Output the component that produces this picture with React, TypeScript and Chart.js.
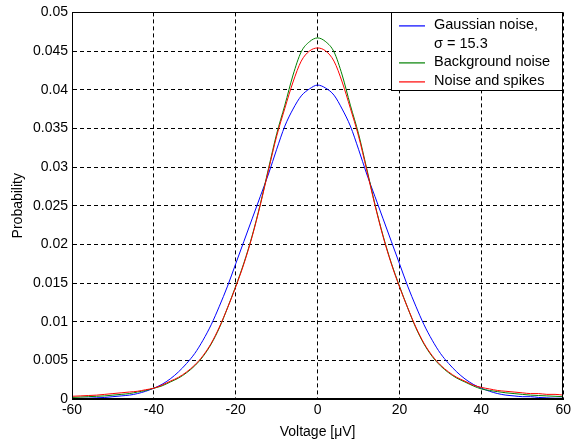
import React, { useEffect, useRef } from 'react';
import { Chart, registerables } from 'chart.js';

Chart.register(...registerables);

// Voltage axis samples (µV), step 2
const voltage = [
  -60, -58, -56, -54, -52, -50, -48, -46, -44, -42, -40, -38, -36, -34, -32, -30,
  -28, -26, -24, -22, -20, -18, -16, -14, -12, -10, -8, -6, -4, -2, 0,
  2, 4, 6, 8, 10, 12, 14, 16, 18, 20, 22, 24, 26, 28, 30,
  32, 34, 36, 38, 40, 42, 44, 46, 48, 50, 52, 54, 56, 58, 60,
];

const gaussianNoise = [
  0.00005, 0.00008, 0.0001, 0.00015, 0.0002, 0.0003, 0.0004, 0.0005, 0.0007, 0.001, 0.0014, 0.0019, 0.0026, 0.0035, 0.0046, 0.0059,
  0.0076, 0.0096, 0.012, 0.0146, 0.0175, 0.0204, 0.0233, 0.0262, 0.0291, 0.0323, 0.0353, 0.0375, 0.0392, 0.0401, 0.0406,
  0.0402, 0.0393, 0.0375, 0.0353, 0.0323, 0.0291, 0.0262, 0.0233, 0.0204, 0.0175, 0.0146, 0.012, 0.0096, 0.0076, 0.0059,
  0.0046, 0.0035, 0.0026, 0.0019, 0.0014, 0.001, 0.0007, 0.0005, 0.0004, 0.0003, 0.0003, 0.0002, 0.00015, 0.0001, 0.0001,
];

const backgroundNoise = [
  0.0002, 0.00025, 0.0003, 0.00035, 0.0004, 0.0005, 0.0006, 0.0007, 0.0009, 0.0011, 0.0014, 0.0017, 0.0022, 0.0027, 0.0034, 0.0043,
  0.0055, 0.0071, 0.0092, 0.0118, 0.0146, 0.0176, 0.0211, 0.0252, 0.0298, 0.0343, 0.038, 0.0419, 0.0449, 0.0462, 0.0467,
  0.0462, 0.0449, 0.0419, 0.038, 0.0343, 0.0298, 0.0252, 0.0211, 0.0176, 0.0146, 0.0118, 0.0092, 0.0071, 0.0055, 0.0043,
  0.0034, 0.0027, 0.0022, 0.0017, 0.0013, 0.0011, 0.00095, 0.0008, 0.0007, 0.0006, 0.0005, 0.00045, 0.0004, 0.00035, 0.0003,
];

const noiseAndSpikes = [
  0.00035, 0.0004, 0.00045, 0.0005, 0.0006, 0.0007, 0.0008, 0.0009, 0.001, 0.0012, 0.0014, 0.0018, 0.0023, 0.0028, 0.0035, 0.0044,
  0.0056, 0.0072, 0.0093, 0.0118, 0.0145, 0.0175, 0.021, 0.0251, 0.0296, 0.034, 0.0376, 0.041, 0.0437, 0.045, 0.0454,
  0.045, 0.0437, 0.041, 0.0376, 0.034, 0.0296, 0.0251, 0.021, 0.0175, 0.0145, 0.0118, 0.0093, 0.0072, 0.0056, 0.0044,
  0.0035, 0.0028, 0.0023, 0.0018, 0.0015, 0.0013, 0.0011, 0.001, 0.0009, 0.0008, 0.0007, 0.0007, 0.0006, 0.0006, 0.0005,
];

const seriesLabels = ['Gaussian noise,\n\u03c3 = 15.3', 'Background noise', 'Noise and spikes'];
const seriesColors = ['#0000ff', '#008000', '#ff0000'];
const xTickLabels = ['-60', '-40', '-20', '0', '20', '40', '60'];
const yTickLabels = ['0', '0.005', '0.01', '0.015', '0.02', '0.025', '0.03', '0.035', '0.04', '0.045', '0.05'];
const xTitle = 'Voltage [\u03bcV]';
const yTitle = 'Probability';

const FONT = "'Liberation Sans', Arial, sans-serif";

const boxPlugin = {
  id: 'matlabBox',
  afterDatasetsDraw(chart: any) {
    const { ctx, chartArea } = chart;
    const l = Math.round(chartArea.left) + 0.5;
    const t = Math.round(chartArea.top) + 0.5;
    const r = Math.round(chartArea.right) - 0.5;
    const b = Math.round(chartArea.bottom) - 0.5;
    ctx.save();
    ctx.setLineDash([]);
    ctx.strokeStyle = '#000';
    ctx.lineWidth = 1;
    ctx.strokeRect(l, t, r - l, b - t);
    ctx.restore();
  },
};

const legendPlugin = {
  id: 'matlabLegend',
  afterDraw(chart: any) {
    const { ctx, chartArea } = chart;
    const right = Math.round(chartArea.right) - 1;
    const top = Math.round(chartArea.top);
    const width = 171;
    const left = right - width;
    const rowStep = 18.7;
    const rows: { text: string; color: string | null }[] = [];
    seriesLabels.forEach((label, k) => {
      label.split('\n').forEach((line, i) => {
        rows.push({ text: line, color: i === 0 ? seriesColors[k] : null });
      });
    });
    const height = 78;
    ctx.save();
    ctx.setLineDash([]);
    ctx.fillStyle = '#000000';
    ctx.fillRect(left, top, width + 1, height + 1);
    ctx.fillStyle = '#ffffff';
    ctx.fillRect(left + 1, top + 1, width - 1, height - 1);
    ctx.font = `14.5px ${FONT}`;
    ctx.textBaseline = 'middle';
    ctx.textAlign = 'left';
    rows.forEach((row, i) => {
      const y = top + 12.5 + i * rowStep;
      if (row.color) {
        ctx.beginPath();
        ctx.strokeStyle = row.color;
        ctx.lineWidth = 1.2;
        ctx.moveTo(left + 8, Math.round(y) + 0.9);
        ctx.lineTo(left + 34, Math.round(y) + 0.9);
        ctx.stroke();
      }
      ctx.fillStyle = '#000000';
      ctx.fillText(row.text, left + 43, y + 0.5);
    });
    ctx.restore();
  },
};

export default function App() {
  const canvasRef = useRef<HTMLCanvasElement | null>(null);

  useEffect(() => {
    if (!canvasRef.current) return;
    const series = [gaussianNoise, backgroundNoise, noiseAndSpikes];
    const chart = new Chart(canvasRef.current, {
      type: 'line',
      data: {
        datasets: series.map((values, i) => ({
          label: seriesLabels[i],
          data: voltage.map((x, j) => ({ x, y: values[j] })),
          borderColor: seriesColors[i],
          backgroundColor: seriesColors[i],
          borderWidth: 1,
          pointRadius: 0,
          fill: false,
          cubicInterpolationMode: 'monotone' as const,
          order: 3 - i,
        })),
      },
      options: {
        responsive: false,
        animation: false,
        events: [],
        layout: { padding: { top: 12, right: 7, left: 0, bottom: 0 } },
        plugins: {
          legend: { display: false },
          tooltip: { enabled: false },
        },
        scales: {
          x: {
            type: 'linear',
            min: -60,
            max: 60,
            afterFit: (scale: any) => {
              scale.height = 45;
            },
            ticks: {
              stepSize: 20,
              autoSkip: false,
              maxRotation: 0,
              padding: 3,
              color: '#000',
              font: { family: FONT, size: 14 },
              callback: (v: any) => xTickLabels[Math.round((Number(v) + 60) / 20)],
            },
            grid: { color: '#000', lineWidth: 1, drawTicks: false },
            border: { display: true, color: '#000', width: 1, dash: [4, 3] },
            title: {
              display: true,
              text: xTitle,
              color: '#000',
              font: { family: FONT, size: 14 },
              padding: { top: 0, bottom: 3 },
            },
          },
          y: {
            type: 'linear',
            min: 0,
            max: 0.05,
            afterFit: (scale: any) => {
              scale.width = 72;
            },
            ticks: {
              stepSize: 0.005,
              autoSkip: false,
              padding: 4,
              color: '#000',
              font: { family: FONT, size: 14 },
              callback: (v: any) => yTickLabels[Math.round(Number(v) / 0.005)],
            },
            grid: { color: '#000', lineWidth: 1, drawTicks: false },
            border: { display: true, color: '#000', width: 1, dash: [4, 3] },
            title: {
              display: true,
              text: yTitle,
              color: '#000',
              font: { family: FONT, size: 14 },
              padding: { top: 10, bottom: 0 },
            },
          },
        },
      },
      plugins: [boxPlugin, legendPlugin],
    });
    return () => chart.destroy();
  }, []);

  return (
    <div style={{ position: 'absolute', left: 0, top: 0, width: 574, height: 444, background: '#fff' }}>
      <canvas ref={canvasRef} width={574} height={444} />
    </div>
  );
}
